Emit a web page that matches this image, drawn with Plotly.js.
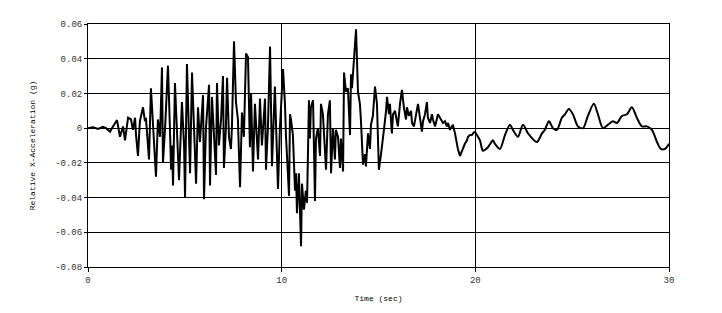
<!DOCTYPE html>
<html>
<head>
<meta charset="utf-8">
<script src="https://cdn.plot.ly/plotly-3.0.1.min.js"></script>
<style>html,body{margin:0;padding:0;background:#fff;}#chart{width:722px;height:313px;}</style>
</head>
<body>
<div id="chart"></div>
<script>
// Time (sec)
const timeSec = [
0,0.26,0.52,0.77,0.93,1.14,1.29,1.50,1.65,1.81,1.91,2.07,2.22,2.32,2.43,2.48,2.58,2.68,2.84,2.94,2.99,
3.15,3.25,3.36,3.51,3.61,3.72,3.82,3.87,3.98,4.13,4.23,4.29,4.34,4.39,4.49,4.60,4.70,4.80,4.85,4.96,
5.01,5.11,5.21,5.27,5.37,5.47,5.58,5.68,5.78,5.94,5.99,6.09,6.25,6.30,6.40,6.51,6.61,6.66,6.76,6.87,6.97,
7.02,7.12,7.18,7.28,7.38,7.43,7.54,7.64,7.74,7.85,7.95,8.05,8.16,8.26,8.36,8.42,8.52,8.62,8.78,8.88,8.98,
9.14,9.19,9.29,9.40,9.50,9.65,9.81,9.91,
10.07,10.17,10.22,10.38,10.43,10.48,10.58,10.69,10.74,10.79,10.89,11.00,11.05,11.15,11.25,11.31,11.41,11.46,
11.51,11.62,11.72,11.77,11.87,11.98,12.03,12.13,12.24,12.29,12.39,12.49,12.55,12.65,12.75,12.80,12.91,
13.01,13.06,13.17,13.22,13.32,13.42,13.53,13.58,13.63,13.73,13.84,13.94,14.04,14.09,14.20,14.30,14.35,
14.46,14.56,14.61,14.71,14.82,14.92,14.97,
15.02,15.13,15.18,15.28,15.39,15.44,15.54,15.59,15.69,15.75,15.85,15.95,16.00,16.11,16.21,16.31,16.42,
16.47,16.57,16.68,16.73,16.83,16.99,17.04,17.14,17.24,17.30,17.40,17.50,17.55,17.66,17.76,17.81,17.92,
18.07,18.17,18.28,18.33,18.43,18.53,18.59,18.69,18.79,18.84,18.95,19.05,19.10,19.21,19.31,19.36,19.46,
19.57,19.62,19.72,19.82,19.88,19.98,
20.08,20.24,20.39,20.65,20.91,21.01,21.27,21.53,21.79,21.94,22.20,22.46,22.72,23.18,23.44,23.59,23.80,
24.01,24.21,24.47,24.63,24.83,25.04,25.30,25.56,25.81,26.12,26.33,26.59,26.85,27.10,27.31,27.57,27.83,
28.08,28.34,28.60,28.86,29.12,29.38,29.58,29.79,30.0
];
// Relative X-Acceleration (g)
const accelG = [
0,0.0005,-0.0005,0.0008,0,-0.002,0.001,0.0046,-0.005,0.001,-0.007,0.006,0.005,-0.001,0.006,-0.004,-0.016,0.004,0.012,0.004,0.006,
-0.018,0.023,0.0,-0.028,0.005,-0.005,0.035,-0.020,0.0,0.036,0.0,-0.024,-0.010,-0.033,0.026,-0.005,-0.030,0.0,0.015,-0.010,
-0.040,0.037,-0.015,-0.026,0.032,0.0,-0.032,0.012,-0.008,0.019,-0.041,0.0,0.025,-0.033,0.018,-0.005,-0.027,0.026,-0.010,0.005,0.030,
-0.023,0.0,0.029,-0.005,-0.012,0.0,0.050,0.015,0.005,-0.034,0.009,-0.005,0.043,0.041,-0.011,0.020,-0.025,0.014,-0.018,0.017,-0.010,
0.017,-0.024,0.0,0.047,-0.022,0.024,-0.035,0.0,
0.034,0.014,-0.004,-0.039,0.008,0.005,-0.004,-0.036,-0.026,-0.049,-0.026,-0.068,-0.032,-0.047,-0.036,-0.043,0.016,-0.006,
0.012,0.016,-0.042,-0.006,0.0,-0.016,0.014,0.008,-0.014,-0.024,0.008,0.016,-0.026,0.0,-0.018,-0.001,-0.005,
-0.023,-0.006,-0.025,0.032,0.021,0.023,-0.004,0.031,0.023,0.039,0.057,0.021,0.014,0.005,-0.021,-0.015,-0.022,
-0.003,-0.012,0.002,0.007,0.024,0.014,-0.005,
-0.024,-0.015,-0.011,-0.001,0.010,0.018,0.008,0.014,-0.003,0.008,0.010,0.003,0.001,0.014,0.022,0.012,0.005,
0.012,0.007,0.010,0.003,0.001,0.012,0.014,0.006,-0.002,0.004,0.008,0.015,0.006,0.003,0.008,0.005,0.001,
0.008,0.006,0.004,0.003,0.004,0.001,0.003,-0.001,0.001,0.002,-0.003,-0.009,-0.012,-0.016,-0.013,-0.011,-0.009,
-0.007,-0.005,-0.004,-0.004,-0.003,-0.002,
-0.004,-0.007,-0.013,-0.011,-0.007,-0.009,-0.012,-0.004,0.002,-0.001,-0.005,0.002,-0.003,-0.008,-0.003,-0.001,0.004,
0.0,-0.001,0.006,0.008,0.011,0.008,0.001,0.0,0.007,0.014,0.008,0.0,0.002,0.004,0.003,0.007,0.008,
0.012,0.006,0.001,0.001,-0.001,-0.008,-0.012,-0.012,-0.009
];
const xTickVals = [0, 10, 20, 30];
const xTickText = ['0', '10', '20', '30'];
const yTickVals = [-0.08, -0.06, -0.04, -0.02, 0, 0.02, 0.04, 0.06];
const yTickText = ['-0.08', '-0.06', '-0.04', '-0.02', '0', '0.02', '0.04', '0.06'];

// the slow tail (from ~20 s) is drawn as a smooth curve, the strong-motion part with straight segments
const splitIdx = timeSec.findIndex(t => t >= 19.98);

const fontFam = '"Liberation Mono", "DejaVu Sans Mono", monospace';
const traces = [
  {
    x: timeSec.slice(0, splitIdx + 1), y: accelG.slice(0, splitIdx + 1),
    type: 'scatter', mode: 'lines',
    line: {color: '#000000', width: 2}, hoverinfo: 'skip'
  },
  {
    x: timeSec.slice(splitIdx), y: accelG.slice(splitIdx),
    type: 'scatter', mode: 'lines',
    line: {color: '#000000', width: 2, shape: 'spline', smoothing: 0.8}, hoverinfo: 'skip'
  }
];
const layout = {
  width: 722, height: 313,
  margin: {l: 88, r: 53, t: 24, b: 46},
  paper_bgcolor: '#ffffff', plot_bgcolor: '#ffffff',
  showlegend: false,
  font: {family: fontFam, size: 9, color: '#333333'},
  xaxis: {
    range: [0, 30], tickvals: xTickVals, ticktext: xTickText,
    showgrid: true, gridcolor: '#000000', gridwidth: 1,
    showline: true, linecolor: '#000000', linewidth: 1, mirror: true,
    ticks: 'outside', ticklen: 4, tickcolor: '#000000',
    zeroline: false,
    tickfont: {family: fontFam, size: 9, color: '#333333'},
    title: {text: 'Time (sec)', font: {family: fontFam, size: 8, color: '#000000'}, standoff: 10}
  },
  yaxis: {
    range: [-0.08, 0.06], tickvals: yTickVals, ticktext: yTickText,
    showgrid: true, gridcolor: '#000000', gridwidth: 1,
    showline: true, linecolor: '#000000', linewidth: 1, mirror: true,
    ticks: 'outside', ticklen: 3, tickcolor: '#000000',
    zeroline: false,
    tickfont: {family: fontFam, size: 9, color: '#333333'},
    title: {text: 'Relative X-Acceleration (g)', font: {family: fontFam, size: 8, color: '#000000'}, standoff: 18}
  }
};
Plotly.newPlot('chart', traces, layout, {staticPlot: true, displayModeBar: false});
</script>
</body>
</html>
